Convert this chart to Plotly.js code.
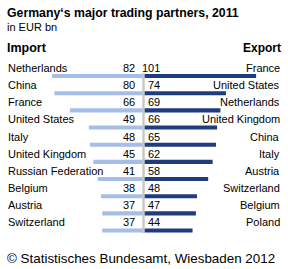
<!DOCTYPE html>
<html>
<head>
<meta charset="utf-8">
<script src="https://cdn.plot.ly/plotly-3.0.1.min.js"></script>
<style>html,body{margin:0;padding:0;background:#fff;}#chart{width:288px;height:269px;}</style>
</head>
<body>
<div id="chart"></div>
<script>
const importCountries = ["Netherlands","China","France","United States","Italy","United Kingdom","Russian Federation","Belgium","Austria","Switzerland"];
const importValues = [82,80,66,49,48,45,41,38,37,37];
const exportCountries = ["France","United States","Netherlands","United Kingdom","China","Italy","Austria","Switzerland","Belgium","Poland"];
const exportValues = [101,74,69,66,65,62,58,48,47,44];

const rows = importValues.map((v,i)=>i);
const font = "Liberation Sans, Arial, sans-serif";
const txtColor = "#000";
const labelOffset = 0.47;

const traces = [
  {type:"bar", orientation:"h", y:rows, x:importValues.map(v=>-v), width:0.24,
   marker:{color:"#a6bde8"}, hoverinfo:"skip"},
  {type:"bar", orientation:"h", y:rows, x:exportValues, width:0.24,
   marker:{color:"#1f3d7e"}, hoverinfo:"skip"}
];

const ann = [];
importCountries.forEach((c,i)=>{
  ann.push({xref:"paper", yref:"y", x:7/288, y:i-labelOffset, text:c, showarrow:false, xanchor:"left", yanchor:"middle", xshift:-1, font:{family:font,size:11,color:txtColor}});
  ann.push({xref:"x", yref:"y", x:-5.5, y:i-labelOffset, text:String(importValues[i]), showarrow:false, xanchor:"right", yanchor:"middle", font:{family:font,size:11,color:txtColor}});
});
exportCountries.forEach((c,i)=>{
  ann.push({xref:"paper", yref:"y", x:281/288, y:i-labelOffset, text:c, showarrow:false, xanchor:"right", yanchor:"middle", xshift:1, font:{family:font,size:11,color:txtColor}});
  ann.push({xref:"x", yref:"y", x:16.5, y:i-labelOffset, text:String(exportValues[i]), showarrow:false, xanchor:"right", yanchor:"middle", font:{family:font,size:11,color:txtColor}});
});
ann.push({xref:"paper", yref:"paper", x:7/288, y:1-13/269, text:"<b>Germany‘s major trading partners, 2011</b>", showarrow:false, xanchor:"left", yanchor:"middle", xshift:-2, font:{family:font,size:12.3,color:"#000"}});
ann.push({xref:"paper", yref:"paper", x:7/288, y:1-27/269, text:"in EUR bn", showarrow:false, xanchor:"left", yanchor:"middle", xshift:-2, font:{family:font,size:11,color:"#000"}});
ann.push({xref:"paper", yref:"paper", x:7/288, y:1-48/269, text:"<b>Import</b>", showarrow:false, xanchor:"left", yanchor:"middle", xshift:-2, font:{family:font,size:12.5,color:"#000"}});
ann.push({xref:"paper", yref:"paper", x:281/288, y:1-48/269, text:"<b>Export</b>", showarrow:false, xanchor:"right", yanchor:"middle", xshift:2, font:{family:font,size:12,color:"#000"}});
ann.push({xref:"paper", yref:"paper", x:7/288, y:1-258/269, text:"© Statistisches Bundesamt, Wiesbaden 2012", showarrow:false, xanchor:"left", yanchor:"middle", xshift:-2, font:{family:font,size:13.4,color:"#000"}});

const layout = {
  width:288, height:269,
  margin:{l:0,r:0,t:0,b:0},
  paper_bgcolor:"#fff", plot_bgcolor:"#fff",
  showlegend:false, barmode:"overlay",
  xaxis:{range:[-128.7,129.6], visible:false, fixedrange:true},
  yaxis:{range:[11.24,-4.43], visible:false, fixedrange:true},
  annotations:ann,
  shapes:[{type:"line", xref:"x", yref:"y", x0:0, x1:0, y0:-0.17, y1:9.15, line:{color:"#c8c8c8", width:2.5}, layer:"above"}]
};
Plotly.newPlot("chart", traces, layout, {displayModeBar:false, staticPlot:true});
</script>
</body>
</html>
